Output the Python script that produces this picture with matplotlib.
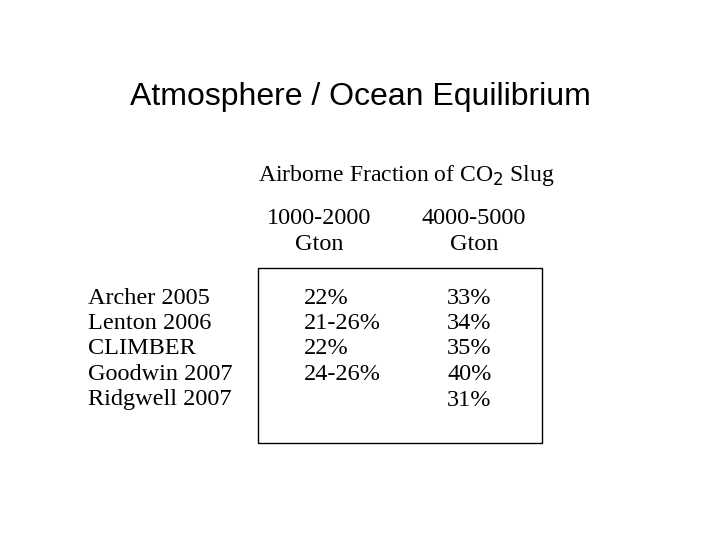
import matplotlib
matplotlib.use("Agg")
import matplotlib.pyplot as plt
from matplotlib.patches import Rectangle

title = "Atmosphere / Ocean Equilibrium"
subtitle = "Airborne Fraction of CO$_2$ Slug"
col_headers = ["1000-2000", "4000-5000"]
col_units = ["Gton", "Gton"]
models = ["Archer 2005", "Lenton 2006", "CLIMBER", "Goodwin 2007", "Ridgwell 2007"]
small_slug = ["22%", "21-26%", "22%", "24-26%", ""]
large_slug = ["33%", "34%", "35%", "40%", "31%"]

fig = plt.figure(figsize=(7.2, 5.4), dpi=100)
ax = fig.add_axes([0, 0, 1, 1])
ax.set_xlim(0, 720); ax.set_ylim(540, 0); ax.axis("off")

serif = "Liberation Serif"
fs = 17.5
ax.text(360, 97, title, ha="center", va="center", fontsize=23, family="Liberation Sans")
ax.text(258, 176, subtitle, ha="left", va="center", fontsize=17, family=serif)
for x, h, u in zip([319, 474], col_headers, col_units):
    ax.text(x, 218, h, ha="center", va="center", fontsize=fs, family=serif)
    ax.text(x, 244, u, ha="center", va="center", fontsize=fs, family=serif)

ax.add_patch(Rectangle((258, 268), 284, 175, fill=False, lw=1, ec="black"))

y0, dy = 298, 25.5
for i, (m, a, b) in enumerate(zip(models, small_slug, large_slug)):
    y = y0 + i * dy
    ax.text(88, y, m, ha="left", va="center", fontsize=fs, family=serif)
    ax.text(304, y, a, ha="left", va="center", fontsize=fs, family=serif)
    ax.text(447, y, b, ha="left", va="center", fontsize=fs, family=serif)

fig.savefig("out.png", dpi=100)
